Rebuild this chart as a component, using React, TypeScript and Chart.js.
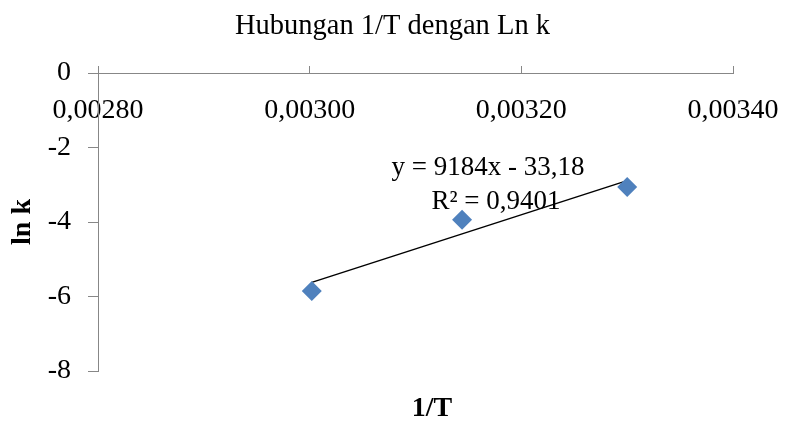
import React, { useEffect, useRef } from "react";
import { Chart, registerables } from "chart.js";

Chart.register(...registerables);

const chartTitle = "Hubungan 1/T dengan Ln k";
const xTitle = "1/T";
const yTitle = "ln k";

const invT = [0.003002, 0.003144, 0.0033];
const lnK = [-5.85, -3.94, -3.06];

const trendX = [0.003002, 0.0033];
const trendY = [-5.62, -2.89];

const equationLines = ["y = 9184x - 33,18", "R² = 0,9401"];

const xTicks = [0.0028, 0.003, 0.0032, 0.0034];
const yTicks = [0, -2, -4, -6, -8];

const FONT = '"Liberation Serif", "Times New Roman", serif';
const GRAY = "#878787";
const BLUE = "#4F81BD";

const textPlugin = {
  id: "texts",
  afterDraw(chart: any) {
    const ctx = chart.ctx;
    ctx.save();
    ctx.fillStyle = "#000";
    ctx.textAlign = "center";
    ctx.textBaseline = "alphabetic";
    ctx.font = `28.5px ${FONT}`;
    ctx.fillText(chartTitle, chart.width / 2, 34);
    ctx.font = `bold 28px ${FONT}`;
    ctx.fillText(xTitle, 432, 416);
    ctx.font = `27px ${FONT}`;
    ctx.fillText(equationLines[0], 488, 175);
    ctx.fillText(equationLines[1], 496, 209);
    ctx.restore();
  },
};

export default function App() {
  const ref = useRef<HTMLCanvasElement | null>(null);

  useEffect(() => {
    if (!ref.current) return;
    const chart = new Chart(ref.current, {
      type: "scatter",
      data: {
        datasets: [
          {
            label: "ln k",
            data: invT.map((x, i) => ({ x, y: lnK[i] })),
            pointStyle: "rectRot",
            pointRadius: 10,
            pointHoverRadius: 10,
            backgroundColor: BLUE,
            borderColor: BLUE,
            borderWidth: 0,
            order: 0,
          },
          {
            label: "trend",
            data: trendX.map((x, i) => ({ x, y: trendY[i] })),
            showLine: true,
            borderColor: "#000",
            borderWidth: 1.5,
            pointRadius: 0,
            order: 1,
          } as any,
        ],
      },
      options: {
        responsive: false,
        animation: false,
        layout: { padding: { top: 66, right: 52, bottom: 50, left: 0 } },
        plugins: {
          legend: { display: false },
          tooltip: { enabled: false },
          title: { display: false },
        },
        scales: {
          x: {
            type: "linear",
            position: "top",
            min: xTicks[0],
            max: xTicks[xTicks.length - 1],
            afterBuildTicks: (s: any) => {
              s.ticks = xTicks.map((v) => ({ value: v }));
            },
            afterFit: (s: any) => {
              s.height = 7;
              s.paddingLeft = 0;
              s.paddingRight = 0;
            },
            grid: {
              drawOnChartArea: false,
              drawTicks: true,
              tickLength: 7,
              color: GRAY,
              lineWidth: 1,
            },
            border: { display: true, color: GRAY, width: 1 },
            ticks: {
              mirror: true,
              padding: 21,
              autoSkip: false,
              maxRotation: 0,
              color: "#000",
              font: { family: FONT, size: 28 },
              callback: (v: any) => Number(v).toFixed(5).replace(".", ","),
            },
          },
          y: {
            type: "linear",
            position: "left",
            min: yTicks[yTicks.length - 1],
            max: yTicks[0],
            afterBuildTicks: (s: any) => {
              s.ticks = [...yTicks].reverse().map((v) => ({ value: v }));
            },
            afterFit: (s: any) => {
              s.width = 98;
              s.paddingTop = 0;
              s.paddingBottom = 0;
            },
            grid: {
              drawOnChartArea: false,
              drawTicks: true,
              tickLength: 10,
              color: GRAY,
              lineWidth: 1,
            },
            border: { display: true, color: GRAY, width: 1 },
            title: {
              display: true,
              text: yTitle,
              color: "#000",
              font: { family: FONT, size: 28, weight: "bold" },
              padding: { top: 6, bottom: 0 },
            },
            ticks: {
              padding: 17,
              color: "#000",
              font: { family: FONT, size: 28 },
              callback: (v: any) => String(v),
            },
          },
        },
      },
      plugins: [textPlugin],
    });
    return () => chart.destroy();
  }, []);

  return (
    <canvas
      ref={ref}
      width={785}
      height={421}
      style={{ position: "absolute", left: 0, top: 0, width: 785, height: 421, background: "#fff" }}
    />
  );
}
